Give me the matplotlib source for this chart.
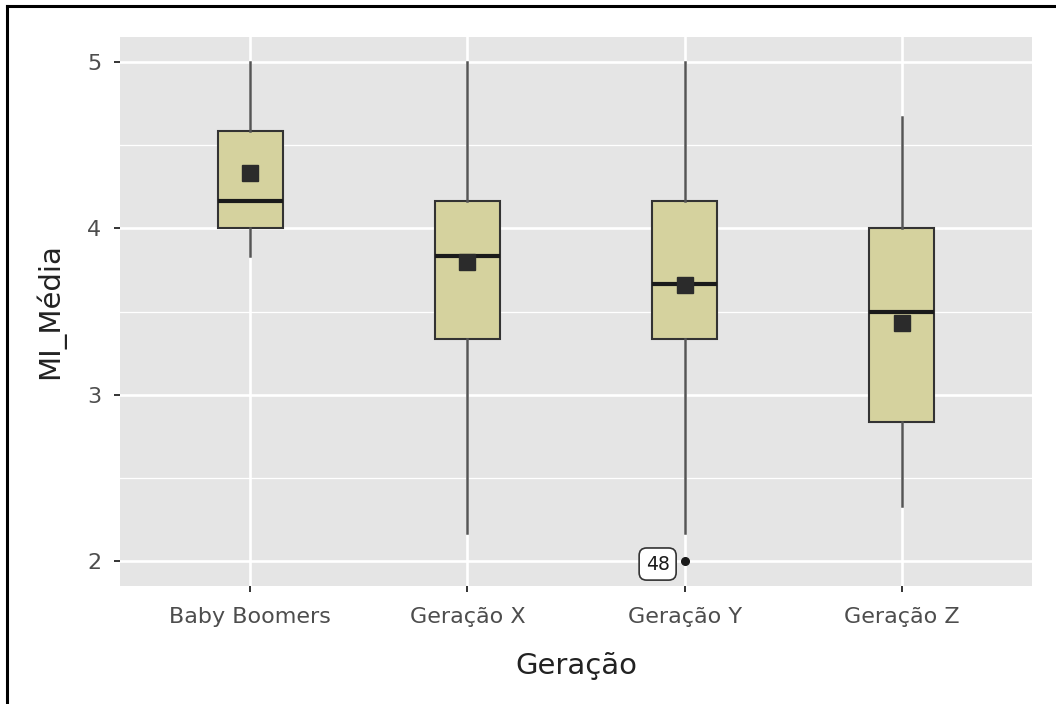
import matplotlib
matplotlib.use("Agg")
import matplotlib.pyplot as plt
from matplotlib.lines import Line2D
from matplotlib.ticker import MultipleLocator

plt.rcParams['font.family'] = ['DejaVu Sans']

categories = ["Baby Boomers", "Geração X", "Geração Y", "Geração Z"]
whisker_low = [3.833, 2.167, 2.167, 2.333]
q1 = [4.0, 3.333, 3.333, 2.833]
medians = [4.167, 3.833, 3.667, 3.5]
q3 = [4.583, 4.167, 4.167, 4.0]
whisker_high = [5.0, 5.0, 5.0, 4.667]
means = [4.33, 3.80, 3.66, 3.43]
outlier_cat = [2]          # index of category (Geração Y)
outlier_val = [2.0]
outlier_label = ["48"]
y_ticks = [2, 3, 4, 5]

W, H = 1056, 704
fig = plt.figure(figsize=(W / 100, H / 100), dpi=100)
fig.patch.set_facecolor("white")

px_l, px_r, px_t, px_b = 120, 1032, 37, 586
ax = fig.add_axes([px_l / W, 1 - px_b / H, (px_r - px_l) / W, (px_b - px_t) / H])
ax.set_facecolor("#E5E5E5")
for s in ax.spines.values():
    s.set_visible(False)

positions = list(range(1, len(categories) + 1))
stats = []
for i in range(len(categories)):
    fl = [v for c, v in zip(outlier_cat, outlier_val) if c == i]
    stats.append(dict(med=medians[i], q1=q1[i], q3=q3[i], whislo=whisker_low[i],
                      whishi=whisker_high[i], fliers=fl, mean=means[i], label=categories[i]))

ax.bxp(stats, positions=positions, widths=0.3, patch_artist=True, showmeans=True,
       showcaps=False, zorder=3,
       boxprops=dict(facecolor="#D5D29E", edgecolor="#333333", linewidth=1.5),
       medianprops=dict(color="#1A1A1A", linewidth=3),
       whiskerprops=dict(color="#555555", linewidth=1.8),
       flierprops=dict(marker="o", markerfacecolor="#1A1A1A", markeredgecolor="#1A1A1A",
                       markersize=5.5),
       meanprops=dict(marker="s", markerfacecolor="#2B2B2B", markeredgecolor="#2B2B2B",
                      markersize=11))

for c, v, lab in zip(outlier_cat, outlier_val, outlier_label):
    ax.annotate(lab, xy=(positions[c], v), xytext=(-15, -3), textcoords="offset pixels",
                ha="right", va="center", fontsize=13.5, color="#1A1A1A", zorder=5,
                bbox=dict(boxstyle="round,pad=0.35,rounding_size=0.4", facecolor="white",
                          edgecolor="#333333", linewidth=1.2))

ax.set_xlim(0.4, 4.6)
ax.set_ylim(1.85, 5.15)
ax.set_xticks(positions)
ax.set_xticklabels(categories)
ax.set_yticks(y_ticks)
ax.yaxis.set_minor_locator(MultipleLocator(0.5))
ax.grid(which="major", color="white", linewidth=1.9, zorder=0)
ax.grid(which="minor", axis="y", color="white", linewidth=0.9, zorder=0)
ax.set_axisbelow(True)
ax.tick_params(axis="both", which="major", length=4.5, width=1.4, color="#333333",
               labelcolor="#4D4D4D", labelsize=16)
ax.tick_params(axis="x", which="major", pad=10.5)
ax.tick_params(axis="y", which="major", pad=9)
ax.tick_params(axis="both", which="minor", length=0)

ax.set_xlabel("Geração", fontsize=21, color="#222222", labelpad=18)
ax.set_ylabel("MI_Média", fontsize=21, color="#222222", labelpad=16)

# screenshot frame (top and left edges)
fig.add_artist(Line2D([7 / W, 1.0], [1 - 5.5 / H, 1 - 5.5 / H], transform=fig.transFigure,
                      color="black", linewidth=2.2))
fig.add_artist(Line2D([7 / W, 7 / W], [0, 1 - 5.5 / H], transform=fig.transFigure,
                      color="black", linewidth=2.2))

fig.savefig("out.png", dpi=100)
